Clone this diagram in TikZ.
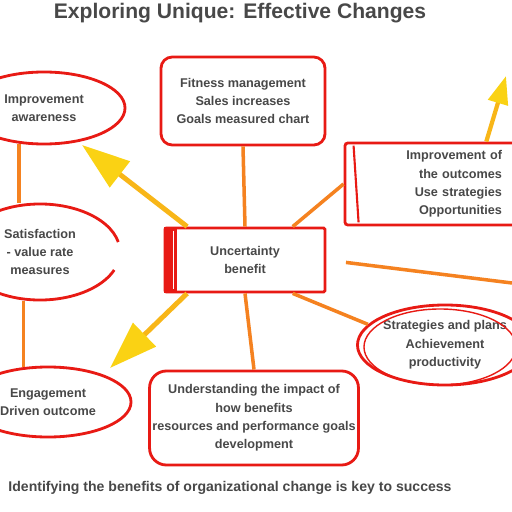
\documentclass[tikz,border=0pt]{standalone}
\usepackage{fontspec}
\setmainfont{Liberation Sans}
\usetikzlibrary{arrows.meta,positioning,calc,shapes.geometric}
\definecolor{mmred}{HTML}{E81A14}
\definecolor{mmorange}{HTML}{F58220}
\definecolor{mmyellow}{HTML}{FAD214}
\definecolor{mmtext}{HTML}{484848}

\begin{document}
\begin{tikzpicture}[x=0.025cm,y=-0.025cm,font=\bfseries\fontsize{9}{13}\selectfont,
 box/.style={draw=mmred,line width=2pt,rounded corners=8pt,fill=white,align=center,text=mmtext,inner sep=2pt},
 oval/.style={ellipse,draw=mmred,line width=2pt,align=center,text=mmtext,inner sep=0pt},
 link/.style={draw=mmorange,line width=2.5pt},
 ptr/.style={draw=mmyellow!65!mmorange,line width=3.5pt,-{Triangle[length=1.2cm,width=0.8cm,color=mmyellow,fill=mmyellow]}},
 ptrsmall/.style={draw=mmyellow!65!mmorange,line width=3pt,-{Triangle[length=0.7cm,width=0.5cm,color=mmyellow,fill=mmyellow]}}]
\clip (0,0) rectangle (512,512);
\fill[white] (0,0) rectangle (512,512);
% title and caption
\node[text=mmtext,font=\bfseries\fontsize{15}{17}\selectfont] (title) at (240,13) {Exploring Unique: Effective Changes};
\node[text=mmtext,font=\bfseries\fontsize{10}{12}\selectfont] (caption) at (230,488) {Identifying the benefits of organizational change is key to success};
% boxes
\node[box,minimum width=4.1cm,minimum height=2.2cm] (tbox) at (243,101) {Fitness management\\Sales increases\\Goals measured chart};
\node[box,rounded corners=1pt,minimum width=4.0cm,minimum height=1.6cm] (ctr) at (245,260) {Uncertainty\\benefit};
\node[box,rounded corners=2pt,minimum width=4.25cm,minimum height=2.05cm,text width=3.6cm,align=right] (rbox) at (430,184) {Improvement of\\the outcomes\\Use strategies\\Opportunities};
\node[box,rounded corners=12pt,minimum width=4.8cm,minimum height=2.35cm] (bbox) at (254,418) {Understanding the impact of\\how benefits\\resources and performance goals\\development};
% ovals
\node[oval,minimum width=4.05cm,minimum height=1.8cm] (tlell) at (44,108) {Improvement\\awareness};
\node[oval,draw=none,minimum width=4.1cm,minimum height=2.4cm] (lmell) at (40,252) {Satisfaction\\- value rate\\measures};
\node[oval,minimum width=3.9cm,minimum height=2.0cm] (relp) at (445,345) {Strategies and plans\\Achievement\\productivity};
\node[oval,minimum width=4.15cm,minimum height=1.75cm] (blell) at (48,402) {Engagement\\Driven outcome};
% details
\draw[mmred,line width=2pt] ($(lmell.center)+(12:2.0cm and 1.2cm)$) arc[start angle=12,end angle=338,x radius=2.0cm,y radius=1.2cm];
\draw[mmred,line width=1pt] ($(relp.center)+(-5,2)$) ellipse[x radius=1.9cm,y radius=0.95cm];
\fill[mmred] (ctr.north west) rectangle ($(ctr.south west)+(13,0)$);
\draw[white,line width=1.2pt] ($(ctr.north west)+(10,4)$) -- ($(ctr.south west)+(10,-4)$);
\draw[mmred,line width=1.5pt] ($(rbox.north west)+(10,4)$) -- ($(rbox.south west)+(15,-4)$);
% free ends
\coordinate (redge) at (512,283);
\coordinate (ytipa) at (82,145);
\coordinate (ytipb) at (110,368);
\coordinate (ytipc) at (506,76);
% connectors
\draw[link] (tbox.south) -- (ctr.north);
\draw[link] (ctr.south) -- (bbox.north);
\draw[link] (ctr.35) -- (rbox.west);
\draw[link] (ctr.-35) -- (relp.165);
\draw[link,shorten <=14pt] (ctr.east) -- (redge);
\draw[link] (tlell.235) -- (lmell.north -| tlell.235);
\draw[link] (blell.125 |- lmell.south) -- (blell.125);
\draw[ptr] (ctr.150) -- (ytipa);
\draw[ptr] (ctr.210) -- (ytipb);
\draw[ptrsmall] (rbox.37) -- (ytipc);
\end{tikzpicture}
\end{document}
